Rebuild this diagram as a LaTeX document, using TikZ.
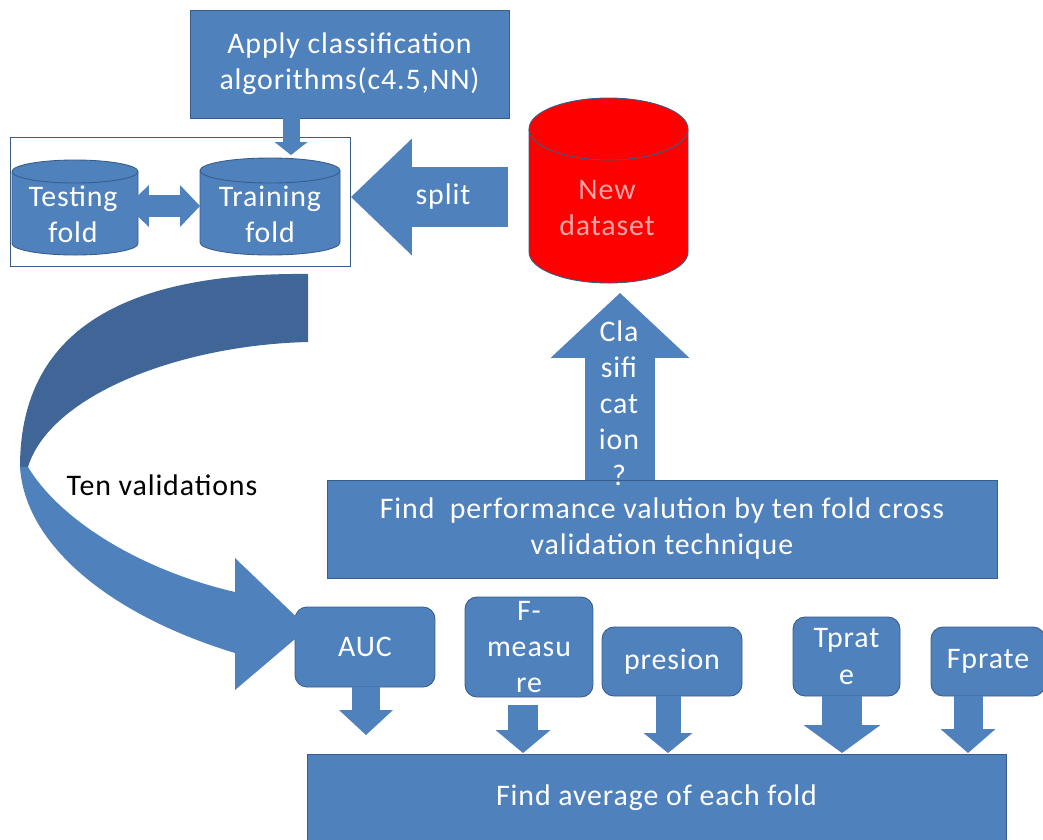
\documentclass[tikz,border=0pt]{standalone}
\usepackage{fontspec}
\setmainfont{Carlito}[LetterSpace=3]
\usetikzlibrary{positioning,arrows.meta}
\definecolor{boxblue}{RGB}{79,129,189}
\definecolor{boxline}{RGB}{56,93,138}
\definecolor{darkarc}{RGB}{63,102,151}
\definecolor{pinktext}{RGB}{250,165,165}

\begin{document}
\begin{tikzpicture}[x=0.02cm, y=-0.02cm,
    box/.style={draw=boxline, fill=boxblue, text=white, line width=0.5pt, align=center, inner sep=0pt, font=\fontsize{17}{20.5}\selectfont},
    metric/.style={box, rounded corners=0.24cm},
    txt/.style={text=white, align=center, inner sep=0pt, font=\fontsize{17}{20.5}\selectfont},
    cyl/.style={draw=boxline, fill=boxblue, line width=0.5pt},
    fat/.style n args={3}{draw=boxblue, line width=#1, -{Triangle[width=#2, length=#3, line width=0pt]}},
  ]
    \useasboundingbox (0,0) rectangle (1043,839);
    % top box
    \node[box, minimum width=6.38cm, minimum height=2.16cm] (apply) at (349.5,64) {Apply classification\\algorithms(c4.5,NN)};
    % folds
    \draw[boxline, line width=0.5pt] (10,137) rectangle (350,266);
    \filldraw[cyl] (12,171.5) -- (12,243.5) arc[start angle=180, end angle=0, x radius=63, y radius=11.5] -- (138,171.5) arc[start angle=0, end angle=-180, x radius=63, y radius=11.5] -- cycle;
    \draw[boxline, line width=0.5pt] (12,171.5) arc[start angle=180, end angle=0, x radius=63, y radius=11.5];
    \filldraw[cyl] (200,170.5) -- (200,242.5) arc[start angle=180, end angle=0, x radius=70, y radius=12.5] -- (340,170.5) arc[start angle=0, end angle=-180, x radius=70, y radius=12.5] -- cycle;
    \draw[boxline, line width=0.5pt] (200,170.5) arc[start angle=180, end angle=0, x radius=70, y radius=12.5];
    \node[txt] (testing) at (73,214) {Testing\\fold};
    \node[txt] (training) at (270,214) {Training\\fold};
    \coordinate (tsright) at (127,206);
    \coordinate (trleft) at (200,206);
    \coordinate (trtop) at (291,155);
    \draw[draw=boxblue, line width=0.44cm, {Triangle[width=0.84cm, length=0.44cm, line width=0pt]}-{Triangle[width=0.84cm, length=0.4cm, line width=0pt]}] (tsright) -- (trleft);
    \draw[fat={0.34cm}{0.66cm}{0.26cm}] (apply.south -| trtop) -- (trtop);
    % new dataset
    \filldraw[cyl, fill=red] (529,129) -- (529,252) arc[start angle=180, end angle=0, x radius=79.5, y radius=31] -- (688,129) arc[start angle=0, end angle=-180, x radius=79.5, y radius=31] -- cycle;
    \draw[boxline, line width=0.5pt] (529,129) arc[start angle=180, end angle=0, x radius=79.5, y radius=31];
    \node[txt, text=pinktext] (newdata) at (607,208) {New\\dataset};
    % split
    \coordinate (splitend) at (508,197);
    \coordinate (splittip) at (351,197);
    \draw[fat={1.2cm}{2.34cm}{1.22cm}] (splitend) -- (splittip);
    \node[txt] (split) at (443,197) {split};
    % performance
    \node[box, minimum width=13.4cm, minimum height=1.96cm] (perf) at (662,529) {Find\ \ performance valution by ten fold cross\\validation technique};
    \coordinate (uptip) at (620,293);
    \draw[fat={1.4cm}{2.78cm}{1.3cm}] (perf.north -| uptip) -- (uptip);
    \node[txt] (clas) at (619,403) {Cla\\sifi\\cat\\ion\\?};
    % measures
    \node[metric, minimum width=2.8cm, minimum height=1.6cm] (auc) at (365,647) {AUC};
    \node[metric, minimum width=2.56cm, minimum height=2cm] (fmeas) at (529,647) {F-\\measu\\re};
    \node[metric, minimum width=2.8cm, minimum height=1.38cm] (presion) at (672,661.5) {presion};
    \node[metric, minimum width=2.14cm, minimum height=1.58cm] (tprate) at (846.5,656.5) {Tprat\\e};
    \node[metric, minimum width=2.28cm, minimum height=1.38cm] (fprate) at (988,661.5) {Fprate};
    % average
    \node[box, minimum width=13.98cm, minimum height=1.76cm] (avg) at (656.5,798) {Find average of each fold};
    \draw[fat={0.56cm}{1.08cm}{0.5cm}] (auc.south -| 366,0) -- (366,735);
    \draw[fat={0.6cm}{1.1cm}{0.46cm}] (523,705) -- (523,753);
    \draw[fat={0.5cm}{0.98cm}{0.4cm}] (presion.south -| 668,0) -- (668,753);
    \draw[fat={0.8cm}{1.54cm}{0.56cm}] (tprate.south -| 842,0) -- (842,753);
    \draw[fat={0.58cm}{1.1cm}{0.48cm}] (fprate.south -| 968,0) -- (968,753);
    % ten validations
    \fill[darkarc] (308,274) .. controls (110,272) and (20,340) .. (20,467) -- (28,467) .. controls (50,395) and (180,345) .. (308,342) -- cycle;
    \fill[boxblue] (20,467) .. controls (25,545) and (110,615) .. (235,653) -- (235,690) -- (308,628) -- (235,558) -- (235,592) .. controls (140,570) and (60,520) .. (28,467) -- cycle;
    \node[txt, text=black] (tenval) at (162,485) {Ten validations};
\end{tikzpicture}
\end{document}
